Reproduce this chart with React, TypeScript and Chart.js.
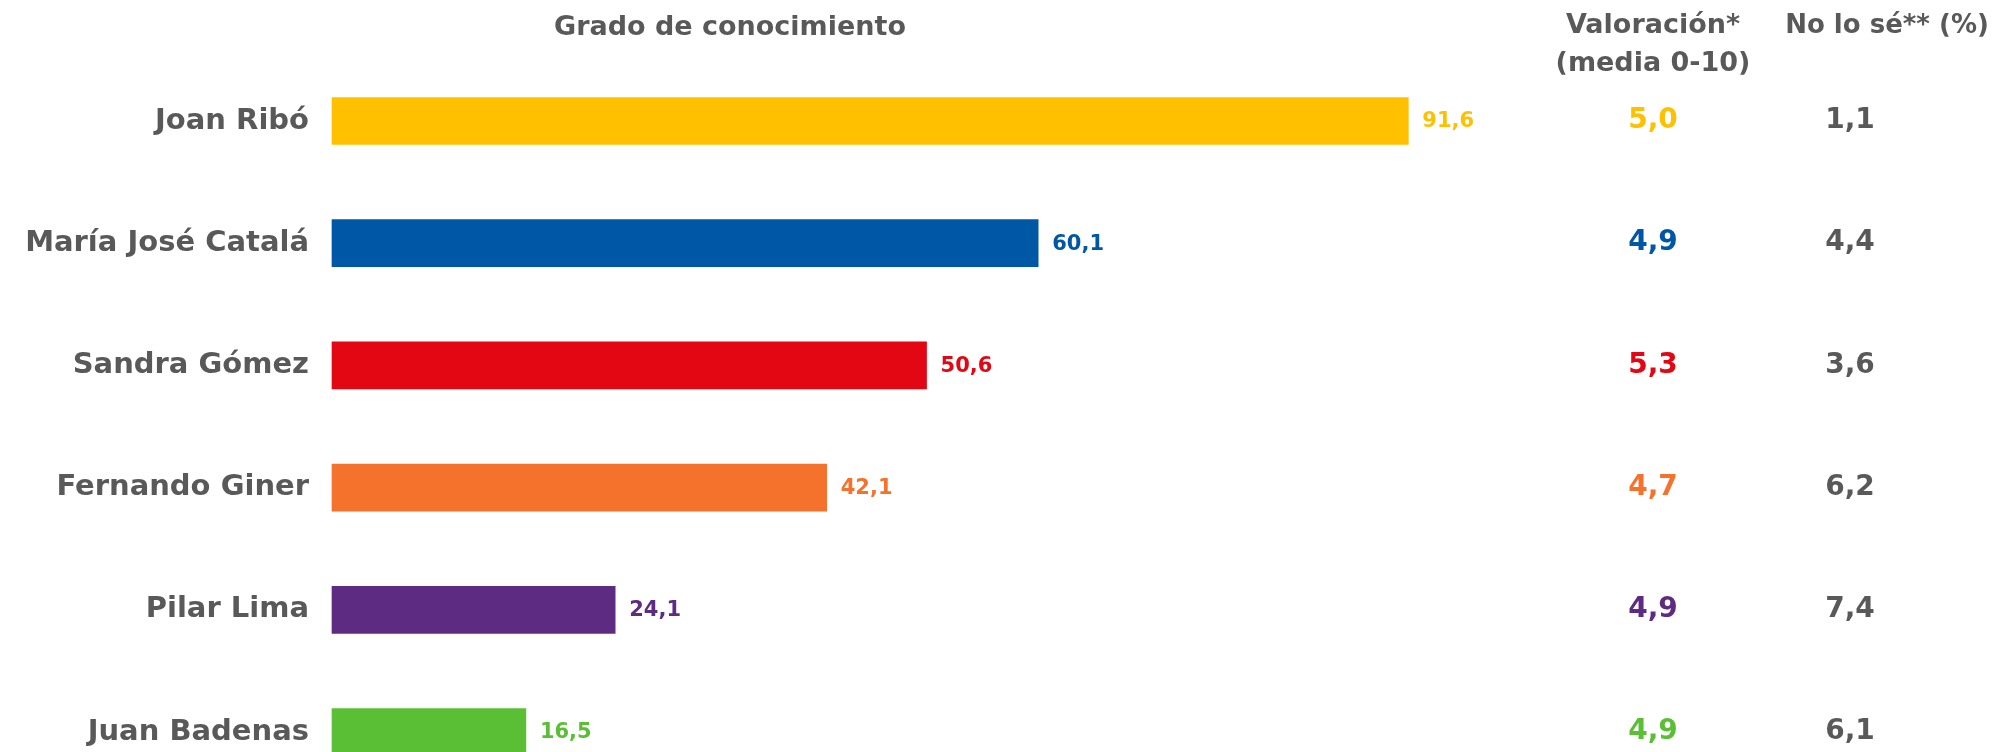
import React, { useEffect, useRef } from "react";
import { Chart, registerables } from "chart.js";

Chart.register(...registerables);

const categories = ["Joan Ribó", "María José Catalá", "Sandra Gómez", "Fernando Giner", "Pilar Lima", "Juan Badenas"];
const conocimiento = [91.6, 60.1, 50.6, 42.1, 24.1, 16.5];
const valoracion = [5.0, 4.9, 5.3, 4.7, 4.9, 4.9];
const noLoSe = [1.1, 4.4, 3.6, 6.2, 7.4, 6.1];
const barColors = ["#FFC000", "#0057A6", "#E30613", "#F4722B", "#5E2B83", "#5BBF35"];
const titleText = "Grado de conocimiento";
const valHeader = ["Valoración*", "(media 0-10)"];
const nsHeader = "No lo sé** (%)";

const GREY = "#595959";
const FONT = "'DejaVu Sans', sans-serif";
const fmt = (v: number) => v.toFixed(1).replace(".", ",");

export default function App() {
  const ref = useRef<HTMLCanvasElement | null>(null);
  useEffect(() => {
    document.body.style.margin = "0";
    const canvas = ref.current;
    if (!canvas) return;
    const overlay = {
      id: "overlay",
      afterDatasetsDraw(chart: any) {
        const ctx = chart.ctx;
        const area = chart.chartArea;
        const meta = chart.getDatasetMeta(0);
        ctx.save();
        ctx.textBaseline = "middle";
        ctx.font = `700 21px ${FONT}`;
        ctx.textAlign = "left";
        meta.data.forEach((bar: any, i: number) => {
          ctx.fillStyle = barColors[i];
          ctx.fillText(fmt(conocimiento[i]), bar.x + 14, bar.y + 1);
        });
        const xVal = area.right + 146;
        const xNs = area.right + 343;
        ctx.textAlign = "center";
        meta.data.forEach((bar: any, i: number) => {
          ctx.font = `700 28px ${FONT}`;
          ctx.fillStyle = barColors[i];
          ctx.fillText(fmt(valoracion[i]), xVal, bar.y);
          ctx.fillStyle = GREY;
          ctx.fillText(fmt(noLoSe[i]), xNs, bar.y);
        });
        ctx.font = `700 27px ${FONT}`;
        ctx.fillStyle = GREY;
        ctx.fillText(titleText, area.left + 398, 28);
        ctx.fillText(valHeader[0], xVal, 26);
        ctx.fillText(valHeader[1], xVal, 64);
        ctx.font = `700 26px ${FONT}`;
        ctx.fillText(nsHeader, area.right + 380, 26);
        ctx.restore();
      },
    };
    const chart = new Chart(canvas, {
      type: "bar",
      data: {
        labels: categories,
        datasets: [
          {
            data: conocimiento,
            backgroundColor: barColors,
            barThickness: 47,
            clip: false as any,
          },
        ],
      },
      options: {
        animation: false,
        responsive: true,
        maintainAspectRatio: false,
        indexAxis: "y",
        layout: { padding: { top: 121, bottom: 20, right: 486, left: 0 } },
        plugins: { legend: { display: false }, tooltip: { enabled: false }, title: { display: false } },
        scales: {
          x: {
            min: 0,
            max: 100,
            display: false,
            grid: { display: false },
          },
          y: {
            offset: false,
            grid: { display: false, drawTicks: false },
            border: { display: false },
            ticks: {
              color: GREY,
              padding: 23,
              font: { family: FONT, size: 29, weight: "bold" },
            },
            afterFit(scale: any) {
              scale.width = 332;
              scale.paddingTop = 0;
              scale.paddingBottom = 0;
            },
          },
        },
      },
      plugins: [overlay],
    });
    return () => chart.destroy();
  }, []);
  return (
    <div style={{ width: "1993px", height: "752px", position: "relative" }}>
      <canvas ref={ref} />
    </div>
  );
}
